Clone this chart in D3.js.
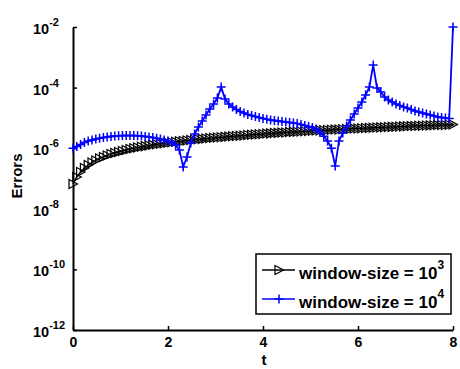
<!DOCTYPE html>
<html><head><meta charset="utf-8">
<script src="https://cdn.jsdelivr.net/npm/d3@7"></script>
<style>
body{margin:0;background:#fff;}
text{font-family:"Liberation Sans",Arial,Helvetica,sans-serif;font-weight:bold;fill:#000;}
</style>
</head><body>
<svg id="chart" width="460" height="369"></svg>
<script>
// ---- data ----
const tValues = [
  0,0.08,0.16,0.24,0.32,0.4,0.48,0.56,0.64,0.72,
  0.8,0.88,0.96,1.04,1.12,1.2,1.28,1.36,1.44,1.52,
  1.6,1.68,1.76,1.84,1.92,2,2.08,2.16,2.24,2.32,
  2.4,2.48,2.56,2.64,2.72,2.8,2.88,2.96,3.04,3.12,
  3.2,3.28,3.36,3.44,3.52,3.6,3.68,3.76,3.84,3.92,
  4,4.08,4.16,4.24,4.32,4.4,4.48,4.56,4.64,4.72,
  4.8,4.88,4.96,5.04,5.12,5.2,5.28,5.36,5.44,5.52,
  5.6,5.68,5.76,5.84,5.92,6,6.08,6.16,6.24,6.32,
  6.4,6.48,6.56,6.64,6.72,6.8,6.88,6.96,7.04,7.12,
  7.2,7.28,7.36,7.44,7.52,7.6,7.68,7.76,7.84,7.92,
  8
];
const errWindow1e3 = [
  6.6e-8,1.12e-7,1.64e-7,2.22e-7,2.79e-7,3.37e-7,3.93e-7,4.57e-7,5.13e-7,5.74e-7,
  6.44e-7,6.95e-7,7.49e-7,8.09e-7,8.72e-7,9.4e-7,1.0e-6,1.05e-6,1.11e-6,1.17e-6,
  1.23e-6,1.29e-6,1.35e-6,1.40e-6,1.45e-6,1.51e-6,1.57e-6,1.63e-6,1.69e-6,1.74e-6,
  1.80e-6,1.85e-6,1.91e-6,1.97e-6,2.03e-6,2.09e-6,2.15e-6,2.20e-6,2.25e-6,2.31e-6,
  2.36e-6,2.41e-6,2.47e-6,2.53e-6,2.59e-6,2.64e-6,2.71e-6,2.77e-6,2.83e-6,2.90e-6,
  2.96e-6,3.03e-6,3.08e-6,3.15e-6,3.20e-6,3.27e-6,3.32e-6,3.40e-6,3.45e-6,3.51e-6,
  3.58e-6,3.64e-6,3.70e-6,3.75e-6,3.81e-6,3.87e-6,3.93e-6,3.99e-6,4.05e-6,4.11e-6,
  4.17e-6,4.24e-6,4.30e-6,4.37e-6,4.43e-6,4.50e-6,4.57e-6,4.64e-6,4.68e-6,4.75e-6,
  4.82e-6,4.86e-6,4.93e-6,5.01e-6,5.05e-6,5.13e-6,5.17e-6,5.24e-6,5.28e-6,5.36e-6,
  5.40e-6,5.49e-6,5.53e-6,5.61e-6,5.66e-6,5.70e-6,5.78e-6,5.83e-6,5.87e-6,5.97e-6,
  6.01e-6
];
const errWindow1e4 = [
  1.0e-6,1.14e-6,1.32e-6,1.54e-6,1.73e-6,1.86e-6,2.01e-6,2.12e-6,2.24e-6,2.34e-6,
  2.43e-6,2.51e-6,2.57e-6,2.61e-6,2.62e-6,2.62e-6,2.61e-6,2.57e-6,2.51e-6,2.43e-6,
  2.34e-6,2.24e-6,2.12e-6,2.01e-6,1.86e-6,1.73e-6,1.54e-6,1.27e-6,8.7e-7,2.4e-7,
  5.1e-7,1.48e-6,2.94e-6,5.0e-6,7.9e-6,1.25e-5,1.97e-5,2.88e-5,4.54e-5,1.05e-4,
  4.2e-5,2.88e-5,2.29e-5,1.89e-5,1.63e-5,1.45e-5,1.29e-5,1.20e-5,1.11e-5,1.03e-5,
  9.6e-6,9.1e-6,8.5e-6,8.2e-6,7.9e-6,7.6e-6,7.3e-6,7.05e-6,6.8e-6,6.5e-6,
  6.05e-6,5.6e-6,5.2e-6,4.8e-6,4.3e-6,3.4e-6,2.5e-6,1.73e-6,1.0e-6,2.6e-7,
  1.73e-6,3.2e-6,5.4e-6,8.5e-6,1.35e-5,2.12e-5,3.35e-5,5.7e-5,1.05e-4,5.6e-4,
  9.7e-5,7.2e-5,4.9e-5,3.9e-5,3.35e-5,2.88e-5,2.57e-5,2.29e-5,2.12e-5,1.89e-5,
  1.69e-5,1.57e-5,1.45e-5,1.35e-5,1.25e-5,1.16e-5,1.07e-5,1.03e-5,1.0e-5,9.6e-6,
  1.0e-2
];
const xTickValues = [0,2,4,6,8];
const yTickExponents = [-12,-10,-8,-6,-4,-2];
const legendLabels = ["window-size = 10","window-size = 10"];
const legendSups = ["3","4"];
const seriesColors = ["#000000","#0000ff"];
const xLabel = "t", yLabel = "Errors";

// ---- layout ----
const svg = d3.select("#chart");
const L = 73, R = 453, T = 27, B = 330;
const x = d3.scaleLinear().domain([0,8]).range([L,R]);
const y = d3.scaleLog().domain([1e-12,1e-2]).range([B,T]);

// axes (ticks inward, no box)
const gx = svg.append("g").attr("transform",`translate(0,${B})`)
  .call(d3.axisBottom(x).tickValues(xTickValues).tickSizeInner(-4).tickSizeOuter(0).tickPadding(7).tickFormat(d3.format("d")));
gx.select(".domain").attr("stroke","#000").attr("stroke-width",2);
gx.selectAll(".tick line").attr("stroke","#000").attr("stroke-width",1.5);
gx.selectAll(".tick text").attr("font-size",14).attr("font-family",null).attr("dy","0.71em");

const gy = svg.append("g").attr("transform",`translate(${L},0)`)
  .call(d3.axisLeft(y).tickValues(yTickExponents.map(e=>Math.pow(10,e))).tickSizeInner(-4).tickSizeOuter(0).tickFormat(""));
gy.select(".domain").attr("stroke","#000").attr("stroke-width",2);
gy.selectAll(".tick line").attr("stroke","#000").attr("stroke-width",1.5);

// y tick labels 10^e
yTickExponents.forEach(e=>{
  const yy = y(Math.pow(10,e));
  const t = svg.append("text").attr("x",33).attr("y",yy+7).attr("font-size",14.5);
  t.append("tspan").text("10");
  t.append("tspan").attr("dy",-8).attr("font-size",11).text(String(e));
});

// axis labels
svg.append("text").attr("x",264).attr("y",365).attr("text-anchor","middle").attr("font-size",15).text(xLabel);
svg.append("text").attr("transform","translate(22,176) rotate(-90)").attr("text-anchor","middle").attr("font-size",15).text(yLabel);

// series
const line = d3.line().x((d,i)=>x(tValues[i])).y(d=>y(d));
const triPath = "M-4,-4.5L4.5,0L-4,4.5Z";
const plusPath = "M-4.5,0H4.5M0,-4.5V4.5";

// black series
svg.append("path").datum(errWindow1e3).attr("d",line).attr("fill","none")
  .attr("stroke",seriesColors[0]).attr("stroke-width",1.5);
svg.append("g").selectAll("path").data(errWindow1e3).join("path")
  .attr("transform",(d,i)=>`translate(${x(tValues[i])},${y(d)})`)
  .attr("d",triPath).attr("fill","none").attr("stroke",seriesColors[0]).attr("stroke-width",1.2);

// blue series
svg.append("path").datum(errWindow1e4).attr("d",line).attr("fill","none")
  .attr("stroke",seriesColors[1]).attr("stroke-width",1.8);
svg.append("g").selectAll("path").data(errWindow1e4).join("path")
  .attr("transform",(d,i)=>`translate(${x(tValues[i])},${y(d)})`)
  .attr("d",plusPath).attr("fill","none").attr("stroke",seriesColors[1]).attr("stroke-width",1.5);

// legend
const lg = svg.append("g");
lg.append("rect").attr("x",256).attr("y",254).attr("width",195).attr("height",60)
  .attr("fill","#fff").attr("stroke","#000").attr("stroke-width",1.5);
const rowsY = [270,299];
legendLabels.forEach((lab,i)=>{
  const ry = rowsY[i];
  lg.append("line").attr("x1",262).attr("x2",295).attr("y1",ry).attr("y2",ry)
    .attr("stroke",seriesColors[i]).attr("stroke-width",1.5);
  lg.append("path").attr("transform",`translate(279,${ry})`).attr("d", i===0?triPath:plusPath)
    .attr("fill","none").attr("stroke",seriesColors[i]).attr("stroke-width",i===0?1.2:1.5);
  const t = lg.append("text").attr("x",299).attr("y",ry+9).attr("font-size",17);
  t.append("tspan").text(lab);
  t.append("tspan").attr("dy",-10).attr("font-size",12).text(legendSups[i]);
});
</script>
</body></html>
